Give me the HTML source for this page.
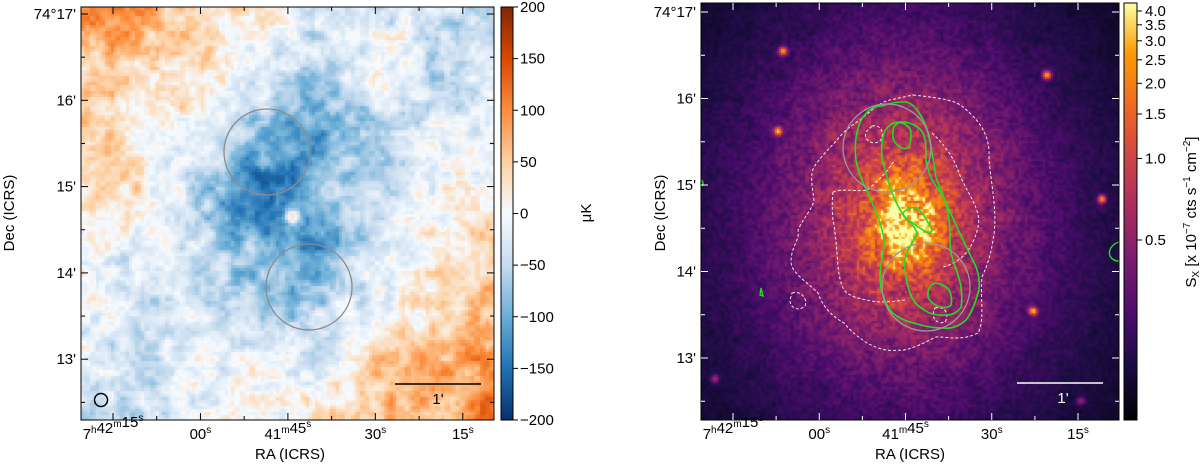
<!DOCTYPE html>
<html><head><meta charset="utf-8"><style>
html,body{margin:0;padding:0;background:#fff;width:1200px;height:465px;overflow:hidden}
canvas{position:absolute}
svg{position:absolute;left:0;top:0}
text{font-family:"Liberation Sans","DejaVu Sans",sans-serif;font-size:15px;fill:#000}
</style></head><body>
<canvas id="cl" width="413" height="413" style="left:81px;top:7px"></canvas>
<canvas id="cr" width="418" height="417" style="left:701px;top:3px"></canvas>
<svg id="ov" width="1200" height="465">
<defs>
<linearGradient id="gl" x1="0" y1="1" x2="0" y2="0">
<stop offset="0" stop-color="#08306b"/><stop offset="0.125" stop-color="#2171b5"/><stop offset="0.25" stop-color="#6baed6"/><stop offset="0.375" stop-color="#c6dbef"/><stop offset="0.5" stop-color="#f7fbff"/><stop offset="0.625" stop-color="#fdd0a2"/><stop offset="0.75" stop-color="#fd8d3c"/><stop offset="0.875" stop-color="#d94801"/><stop offset="1" stop-color="#7f2704"/></linearGradient>
<linearGradient id="gr" x1="0" y1="1" x2="0" y2="0">
<stop offset="0" stop-color="#000004"/><stop offset="0.13" stop-color="#1b0c41"/><stop offset="0.25" stop-color="#4a0c6b"/><stop offset="0.38" stop-color="#781c6d"/><stop offset="0.5" stop-color="#a52c60"/><stop offset="0.63" stop-color="#cf4446"/><stop offset="0.75" stop-color="#ed6925"/><stop offset="0.88" stop-color="#fb9b06"/><stop offset="1" stop-color="#fcffa4"/></linearGradient>
</defs>
<g id="left">
<ellipse cx="267" cy="152" rx="43" ry="43" fill="none" stroke="#8c8c8c" stroke-width="1.3"/>
<ellipse cx="309" cy="287" rx="43" ry="43" fill="none" stroke="#8c8c8c" stroke-width="1.3"/>
<circle cx="101" cy="400" r="6.5" fill="none" stroke="#000" stroke-width="1.5"/>
<line x1="395" y1="384" x2="481" y2="384" stroke="#000" stroke-width="1.5"/>
<text x="438" y="404" text-anchor="middle">1'</text>
<rect x="81" y="7" width="413" height="413" fill="none" stroke="#000" stroke-width="1"/>
<rect x="501" y="7" width="12" height="413" fill="url(#gl)" stroke="#000" stroke-width="1"/>
<text transform="translate(14,213) rotate(-90)" text-anchor="middle">Dec (ICRS)</text>
<text x="290" y="459" text-anchor="middle">RA (ICRS)</text>
<text transform="translate(591,213) rotate(-90)" text-anchor="middle">μK</text>
</g>
<g id="right">
<path fill="none" stroke="#f2e6f5" stroke-width="1" stroke-dasharray="3,2" d="M913,95 C940,98 955,100 963,107 C985,125 990,140 989,160 C992,190 998,215 993,240 C990,260 985,270 982,277 C980,300 985,320 978,333 C960,342 945,336 936,337 C920,345 905,352 898,350 C885,352 875,347 867,343 C855,335 850,330 844,323 C830,315 822,305 818,293 C805,280 790,272 791,260 C792,245 800,240 798,230 C805,215 812,210 814,200 C812,185 810,175 814,167 C822,155 830,148 837,140 C845,130 852,125 860,120 C872,110 880,102 890,100 Z"/>
<path fill="none" stroke="#f2e6f5" stroke-width="1" stroke-dasharray="3,2" d="M833,192 C845,188 858,192 867,190 C880,180 888,170 895,160 M932,133 C945,145 955,160 959,173 C968,195 982,210 978,227 C975,240 970,248 966,253 C958,262 950,265 943,267 M905,300 C890,302 878,303 867,300 C855,298 848,295 844,290 C838,278 838,265 837,253 C836,240 835,230 833,220 C832,210 832,200 833,192"/>
<path fill="none" stroke="#f2e6f5" stroke-width="1" stroke-dasharray="3,2" d="M872,126 C882,124 885,135 880,141 C873,146 863,140 866,132 Z M792,293 C800,290 808,298 805,306 C798,312 790,308 790,300 Z M889,212 C898,210 900,222 893,228 C886,228 883,218 889,212 Z M935,308 C945,305 950,315 945,322 C937,325 930,318 935,308 Z"/>
<path fill="none" stroke="#22dd22" stroke-width="1.6" d="M903,102 C915,100 925,122 928,133 C932,150 934,165 936,177 C942,195 950,212 957,227 C965,245 972,258 976,267 C980,278 980,288 978,293 C975,305 970,315 966,320 C958,327 950,329 943,328 C935,328 928,327 921,325 C908,322 896,318 890,310 C884,300 880,290 880,277 C880,262 885,250 884,240 C882,225 876,212 871,200 C864,185 858,172 856,160 C854,145 856,128 863,117 C870,108 876,106 882,106 C890,103 897,102 903,102 Z"/>
<path fill="none" stroke="#22dd22" stroke-width="1.6" d="M894,123 C905,120 915,124 921,130 C928,140 925,150 926,160 C928,170 930,176 932,180 C938,190 943,195 945,200 C948,212 950,225 950,233 C950,242 950,248 951,253 C954,265 960,278 961,287 C962,295 962,302 961,307 C958,312 952,315 947,315 C938,316 930,314 924,310 C916,305 911,298 909,290 C906,280 904,270 905,260 C907,248 915,240 917,233 C915,227 910,222 905,217 C898,208 894,198 890,187 C887,177 884,167 882,157 C881,147 882,140 884,133 C886,128 889,125 894,123 Z"/>
<path fill="none" stroke="#22dd22" stroke-width="1.6" d="M898,123 C905,122 911,128 911,133 C911,140 910,145 909,147 C906,149 904,149 902,148 C897,146 893,141 893,137 C892,130 894,125 898,123 Z"/>
<path fill="none" stroke="#22dd22" stroke-width="1.6" d="M903,213 C907,208 913,207 917,208 C922,212 928,222 932,230 C931,233 929,234 928,233 C922,230 917,226 913,223 C908,220 902,217 903,213 Z"/>
<path fill="none" stroke="#22dd22" stroke-width="1.6" d="M936,283 C942,284 947,287 949,290 C952,296 952,301 951,305 C948,308 944,308 940,307 C934,305 930,302 928,297 C927,290 930,284 936,283 Z"/>
<path fill="none" stroke="#22dd22" stroke-width="1.4" d="M1119,242 C1112,244 1108,250 1110,256 C1112,260 1116,261 1119,261 M701,180 C703,181 704,184 702,186 M761,288 L763,296 L760,295 Z"/>
<ellipse cx="887" cy="148" rx="44" ry="44" fill="none" stroke="#9a9a9a" stroke-width="1.3"/>
<ellipse cx="926" cy="287" rx="44" ry="44" fill="none" stroke="#9a9a9a" stroke-width="1.3"/>
<line x1="1017" y1="383" x2="1103" y2="383" stroke="#fff" stroke-width="1.5"/>
<text x="1063" y="403" text-anchor="middle" style="fill:#fff">1'</text>
<rect x="701" y="3" width="418" height="417" fill="none" stroke="#000" stroke-width="1"/>
<rect x="1124" y="3" width="13" height="417" fill="url(#gr)" stroke="#000" stroke-width="1"/>
<text transform="translate(665,213) rotate(-90)" text-anchor="middle">Dec (ICRS)</text>
<text x="910" y="459" text-anchor="middle">RA (ICRS)</text>
<text transform="translate(1196,212) rotate(-90)" text-anchor="middle">S<tspan font-size="10" dy="3">X</tspan><tspan dy="-3"> [x 10</tspan><tspan font-size="10" dy="-6">−7</tspan><tspan dy="6"> cts s</tspan><tspan font-size="10" dy="-6">−1</tspan><tspan dy="6"> cm</tspan><tspan font-size="10" dy="-6">−2</tspan><tspan dy="6">]</tspan></text>
</g>
</svg>
<script>
// ---- tick data ----
const decLabels = ["74°17'", "16'", "15'", "14'", "13'"];
const decValues = [17, 16, 15, 14, 13];
const raLabels = [["7","h","42","m","15","s"], ["00","s"], ["41","m","45","s"], ["30","s"], ["15","s"]];
const raValues = [15, 0, -15, -30, -45];
const cbLeftValues = [200, 150, 100, 50, 0, -50, -100, -150, -200];
const cbLeftLabels = ["200", "150", "100", "50", "0", "−50", "−100", "−150", "−200"];
const cbRightValues = [4.0, 3.5, 3.0, 2.5, 2.0, 1.5, 1.0, 0.5];
const cbRightLabels = ["4.0", "3.5", "3.0", "2.5", "2.0", "1.5", "1.0", "0.5"];

const NS = "http://www.w3.org/2000/svg";
const ov = document.getElementById('ov');
function mk(tag, attrs, parent) {
  const e = document.createElementNS(NS, tag);
  for (const k in attrs) e.setAttribute(k, attrs[k]);
  (parent || ov).appendChild(e);
  return e;
}
const panels = [
  {x0: 81, y0: 7, x1: 494, y1: 420, decY: v => 14 + (17 - v) * 86.3, raX: v => 113 + (15 - v) * 5.83, white: false},
  {x0: 701, y0: 3, x1: 1119, y1: 420, decY: v => 12 + (17 - v) * 86.5, raX: v => 733 + (15 - v) * 5.75, white: true}
];
panels.forEach(p => {
  const col = p.white ? '#fff' : '#000';
  for (let v = 12.5; v <= 17.01; v += 0.5) {
    const y = p.decY(v);
    if (y < p.y0 || y > p.y1) continue;
    const major = Math.abs(v - Math.round(v)) < 0.01;
    const L = major ? 7 : 4;
    const t1 = mk('line', {x1: p.x0, y1: y, x2: p.x0 + L, y2: y, stroke: col, 'stroke-width': 1});
    
    
    const t2 = mk('line', {x1: p.x1, y1: y, x2: p.x1 - L, y2: y, stroke: col, 'stroke-width': 1});
    
    
  }
  decValues.forEach((v, i) => {
    const t = mk('text', {x: p.x0 - 5, y: p.decY(v) + 5, 'text-anchor': 'end'});
    
    
    t.textContent = decLabels[i];
  });
  for (let v = 22.5; v >= -52.5; v -= 7.5) {
    const x = p.raX(v);
    if (x < p.x0 || x > p.x1) continue;
    const major = Math.abs(v / 15 - Math.round(v / 15)) < 0.01;
    const L = major ? 7 : 4;
    const t1 = mk('line', {x1: x, y1: p.y1, x2: x, y2: p.y1 - L, stroke: col, 'stroke-width': 1});
    
    
    const t2 = mk('line', {x1: x, y1: p.y0, x2: x, y2: p.y0 + L, stroke: col, 'stroke-width': 1});
    
    
  }
  raValues.forEach((v, i) => {
    const t = mk('text', {x: p.raX(v), y: p.y1 + 19, 'text-anchor': 'middle'});
    
    
    const parts = raLabels[i];
    for (let j = 0; j < parts.length; j += 2) {
      const a = mk('tspan', {}, t); a.textContent = parts[j];
      const b = mk('tspan', {'font-size': 10, dy: -6}, t); b.textContent = parts[j + 1];
      const c = mk('tspan', {dy: 6}, t); c.textContent = '';
    }
  });
});
const cbL = v => 7 + (200 - v) / 400 * 413;
cbLeftValues.forEach((v, i) => {
  const y = cbL(v);
  const l = mk('line', {x1: 513, y1: y, x2: 518, y2: y, stroke: '#000'});
  
  
  const t = mk('text', {x: 520, y: y + 5});
  
  
  t.textContent = cbLeftLabels[i];
});
const cbR = v => 11 + 229 * Math.log(3.9 / (v - 0.1)) / Math.log(3.9 / 0.4);
cbRightValues.forEach((v, i) => {
  const y = cbR(v);
  const l = mk('line', {x1: 1137, y1: y, x2: 1142, y2: y, stroke: '#000'});
  
  
  const t = mk('text', {x: 1145, y: y + 5});
  
  
  t.textContent = cbRightLabels[i];
});

// ---- procedural image textures ----
function rng(seed) { return function () { seed |= 0; seed = seed + 0x6D2B79F5 | 0; let t = Math.imul(seed ^ seed >>> 15, 1 | seed); t = t + Math.imul(t ^ t >>> 7, 61 | t) ^ t; return ((t ^ t >>> 14) >>> 0) / 4294967296; }; }
function noiseGrid(n, seed) { const r = rng(seed); const g = []; for (let i = 0; i < n * n; i++) g.push(r() * 2 - 1); return g; }
function sample(g, n, cell, x, y) {
  const gx = x / cell, gy = y / cell; const i = Math.floor(gx), j = Math.floor(gy);
  let fx = gx - i, fy = gy - j; fx = fx * fx * (3 - 2 * fx); fy = fy * fy * (3 - 2 * fy);
  const at = (a, b) => g[((b % n + n) % n) * n + ((a % n + n) % n)];
  return at(i, j) * (1 - fx) * (1 - fy) + at(i + 1, j) * fx * (1 - fy) + at(i, j + 1) * (1 - fx) * fy + at(i + 1, j + 1) * fx * fy;
}
function lerpCol(stops, t) {
  t = Math.max(0, Math.min(1, t));
  for (let i = 1; i < stops.length; i++) if (t <= stops[i][0]) {
    const a = stops[i - 1], b = stops[i], f = (t - a[0]) / (b[0] - a[0]);
    return [0, 1, 2].map(k => a[1][k] + (b[1][k] - a[1][k]) * f);
  }
  return stops[stops.length - 1][1];
}
const hex = h => [parseInt(h.substr(1, 2), 16), parseInt(h.substr(3, 2), 16), parseInt(h.substr(5, 2), 16)];
const divStops = [[0, '#08306b'], [0.125, '#2171b5'], [0.25, '#6baed6'], [0.375, '#c6dbef'], [0.5, '#f7fbff'], [0.625, '#fdd0a2'], [0.75, '#fd8d3c'], [0.875, '#d94801'], [1, '#7f2704']].map(s => [s[0], hex(s[1])]);
const infStops = [[0, '#000004'], [0.13, '#1b0c41'], [0.25, '#4a0c6b'], [0.38, '#781c6d'], [0.5, '#a52c60'], [0.63, '#cf4446'], [0.75, '#ed6925'], [0.88, '#fb9b06'], [1, '#fcffa4']].map(s => [s[0], hex(s[1])]);

(function () {
  const c = document.getElementById('cl'), ctx = c.getContext('2d');
  const g1 = noiseGrid(64, 11), g2 = noiseGrid(128, 23), g3 = noiseGrid(64, 5);
  const W = 413, H = 413, B = 3;
  for (let y = 0; y < H; y += B) for (let x = 0; x < W; x += B) {
    const u = x / W, v = y / H;
    let val = 85 * ((u - 0.5) * (v - 0.5) * 4) + 18;
    val += 25 * sample(g3, 64, 60, x, y);
    const dx = x + 81 - 282, dy = y + 7 - 205;
    val -= 155 * Math.exp(-(dx * dx / (2 * 62 * 62) + dy * dy / (2 * 95 * 95)));
    val += 32 * sample(g1, 64, 14, x, y) + 22 * sample(g2, 128, 5, x, y);
    const sx = x + 81 - 291, sy = y + 7 - 216;
    val += 190 * Math.exp(-(sx * sx + sy * sy) / (2 * 5 * 5));
    const col = lerpCol(divStops, (val + 200) / 400);
    ctx.fillStyle = 'rgb(' + col.map(Math.round).join(',') + ')';
    ctx.fillRect(x, y, B, B);
  }
})();
(function () {
  const c = document.getElementById('cr'), ctx = c.getContext('2d');
  const g1 = noiseGrid(128, 7), g2 = noiseGrid(64, 31);
  const W = 418, H = 417, B = 2;
  const srcs = [[782, 50, 0.75], [777, 130, 0.7], [1046, 74, 0.75], [1101, 198, 0.7], [1032, 310, 0.7], [714, 378, 0.35], [1080, 400, 0.3]];
  for (let y = 0; y < H; y += B) for (let x = 0; x < W; x += B) {
    const X = x + 701, Y = y + 3;
    let dx = X - 900, dy = Y - 215;
    let I = 0.03 + 0.32 * Math.exp(-(dx * dx / (2 * 150 * 150) + dy * dy / (2 * 175 * 175)));
    I += 0.3 * Math.exp(-(dx * dx / (2 * 70 * 70) + dy * dy / (2 * 100 * 100)));
    dx = X - 905; dy = Y - 222;
    I += 0.4 * Math.exp(-(dx * dx / (2 * 24 * 24) + dy * dy / (2 * 34 * 34)));
    I *= 1 + 0.25 * sample(g1, 128, 3, x, y) + 0.1 * sample(g2, 64, 12, x, y);
    srcs.forEach(s => { const ex = X - s[0], ey = Y - s[1]; I += s[2] * Math.exp(-(ex * ex + ey * ey) / (2 * 3 * 3)); });
    const col = lerpCol(infStops, I);
    ctx.fillStyle = 'rgb(' + col.map(Math.round).join(',') + ')';
    ctx.fillRect(x, y, B, B);
  }
})();
</script>
</body></html>
